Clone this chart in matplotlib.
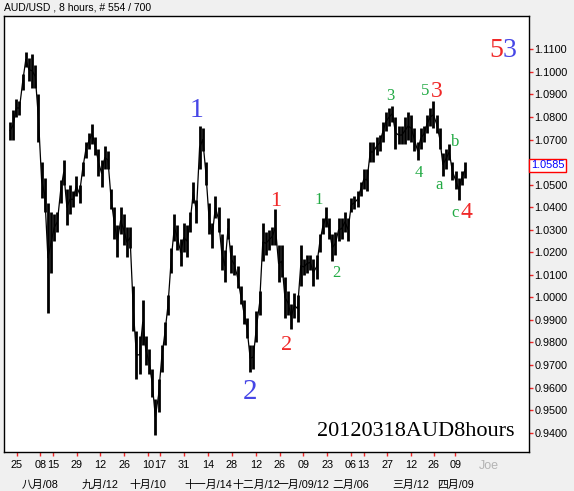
import matplotlib
matplotlib.use("Agg")
import matplotlib.pyplot as plt
from matplotlib.transforms import blended_transform_factory

# AUD/USD 8 hour bars, grouped by 4 bars per column (high / low)
highs = [
    1.078, 1.083, 1.088, 1.087, 1.099, 1.109, 1.106, 1.108, 1.103, 1.090,
    1.060, 1.053, 1.042, 1.038, 1.037, 1.038, 1.052, 1.061, 1.048, 1.050,
    1.047, 1.054, 1.050, 1.060, 1.069, 1.073, 1.077, 1.071, 1.066, 1.061,
    1.067, 1.065, 1.048, 1.040, 1.032, 1.040, 1.037, 1.031, 1.031, 1.005,
    0.985, 0.983, 0.999, 0.983, 0.977, 0.968, 0.955, 0.964, 0.979, 0.989,
    1.001, 1.022, 1.037, 1.032, 1.026, 1.033, 1.032, 1.038, 1.051, 1.043,
    1.076, 1.075, 1.060, 1.042, 1.033, 1.045, 1.040, 1.028, 1.021, 1.035,
    1.023, 1.019, 1.014, 1.005, 0.999, 0.991, 0.979, 0.979, 0.994, 1.003,
    1.033, 1.029, 1.030, 1.031, 1.039, 1.023, 1.023, 1.009, 1.003, 0.997,
    1.002, 1.001, 1.023, 1.017, 1.019, 1.019, 1.017, 1.019, 1.028, 1.035,
    1.040, 1.035, 1.028, 1.029, 1.035, 1.035, 1.038, 1.035, 1.044, 1.045,
    1.047, 1.051, 1.057, 1.057, 1.069, 1.069, 1.071, 1.072, 1.078, 1.082,
    1.084, 1.085, 1.080, 1.076, 1.076, 1.080, 1.082, 1.081, 1.075, 1.069,
    1.075, 1.076, 1.081, 1.084, 1.087, 1.081, 1.075, 1.064, 1.066, 1.068,
    1.060, 1.056, 1.053, 1.056, 1.060]
lows = [
    1.070, 1.070, 1.080, 1.081, 1.092, 1.102, 1.096, 1.093, 1.093, 1.069,
    1.044, 1.038, 0.993, 1.011, 1.025, 1.029, 1.042, 1.050, 1.032, 1.037,
    1.040, 1.045, 1.042, 1.054, 1.062, 1.066, 1.068, 1.063, 1.054, 1.049,
    1.057, 1.057, 1.039, 1.026, 1.018, 1.028, 1.023, 1.018, 1.022, 0.985,
    0.964, 0.966, 0.979, 0.970, 0.966, 0.956, 0.939, 0.949, 0.967, 0.979,
    0.992, 1.011, 1.025, 1.021, 1.014, 1.020, 1.018, 1.029, 1.042, 1.033,
    1.057, 1.065, 1.050, 1.028, 1.022, 1.035, 1.029, 1.012, 1.007, 1.026,
    1.011, 1.010, 1.004, 0.997, 0.988, 0.982, 0.967, 0.968, 0.980, 0.992,
    1.016, 1.019, 1.021, 1.023, 1.023, 1.007, 1.009, 0.991, 0.992, 0.986,
    0.991, 0.989, 1.005, 1.010, 1.011, 1.012, 1.005, 1.008, 1.020, 1.028,
    1.031, 1.026, 1.016, 1.019, 1.025, 1.026, 1.029, 1.025, 1.038, 1.039,
    1.040, 1.045, 1.048, 1.047, 1.060, 1.060, 1.063, 1.065, 1.069, 1.074,
    1.076, 1.078, 1.066, 1.068, 1.068, 1.068, 1.070, 1.069, 1.065, 1.061,
    1.066, 1.069, 1.073, 1.076, 1.075, 1.073, 1.066, 1.054, 1.057, 1.061,
    1.052, 1.048, 1.043, 1.050, 1.053]
bars = [i * 4 for i in range(len(highs))]

day_ticks = [8.5, 38.5, 54.5, 84.5, 114.5, 144.5, 174.5, 190.5, 220.5, 250.5, 280.5,
             311.5, 341.5, 371.5, 401.5, 431.5, 447.5, 477.5, 507.5, 536.5, 563.5]
day_labels = ["25", "08", "15", "29", "12", "26", "10", "17", "31", "14", "28",
              "12", "26", "09", "23", "06", "13", "27", "12", "26", "09"]
month_ticks = [38.5, 114.5, 174.5, 250.5, 311.5, 371.5, 431.5, 507.5, 563.5]
month_labels = ["八月/08", "九月/12", "十月/10", "十一月/14", "十二月/12",
                "一月/09/12", "二月/06", "三月/12", "四月/09"]
price_ticks = [0.94, 0.95, 0.96, 0.97, 0.98, 0.99, 1.00, 1.01, 1.02, 1.03,
               1.04, 1.05, 1.06, 1.07, 1.08, 1.09, 1.10, 1.11]
last_price = 1.0585

# elliott wave marks
wave_text = ["1", "2", "1", "2", "1", "2", "3", "4", "5", "3", "a", "b", "c", "4"]
wave_bar = [236.7, 303.8, 336.7, 350.6, 391.1, 412.7, 481, 517.7, 526, 540, 543, 563.3, 563.3, 577.2]
wave_price = [1.0830, 0.9580, 1.0425, 0.9785, 1.0430, 1.0108, 1.0893, 1.0551, 1.0915, 1.0912,
              1.0498, 1.0689, 1.0374, 1.0375]

BLUE = "#4646e6"
RED = "#f02828"
GREEN = "#22aa44"
wave_color = [BLUE, BLUE, RED, RED, GREEN, GREEN, GREEN, GREEN, GREEN, RED, GREEN, GREEN, GREEN, RED]
wave_size = [20, 21, 16, 16, 12, 12, 12, 12, 12, 17, 12, 12, 12, 17]

fig = plt.figure(figsize=(5.74, 4.91), dpi=100, facecolor="#f0f0f0")
ax = fig.add_axes([4 / 574, 39 / 491, 525 / 574, 436 / 491])
ax.set_facecolor("white")

mids = [(h + l) / 2 for h, l in zip(highs, lows)]
ax.plot(bars, mids, color="black", lw=0.9)
ax.vlines(bars, lows, highs, colors="black", lw=2.0)

ax.set_xlim(-7.6, 657)
ax.set_ylim(0.9314, 1.1248)

sans = ["Liberation Sans", "Noto Sans CJK SC"]
ax.yaxis.tick_right()
ax.set_yticks(price_ticks)
ax.set_yticklabels(["" if abs(p - 1.06) < 1e-6 else "%.4f" % p for p in price_ticks],
                   family=sans, fontsize=7.8)
ax.set_xticks(day_ticks)
ax.set_xticklabels(day_labels, family=sans, fontsize=7.8)
ax.tick_params(axis="both", direction="out", length=3, width=1, color=RED, pad=3)
ax.tick_params(axis="y", pad=1)
for s in ax.spines.values():
    s.set_linewidth(1)

trans = blended_transform_factory(ax.transData, ax.transAxes)
for pos, lab in zip(month_ticks, month_labels):
    ax.text(pos, -0.076, lab, transform=trans, ha="center", va="center",
            family=sans, fontsize=7.8)

ax.text(1.004, last_price, "%.4f" % last_price, transform=ax.get_yaxis_transform(),
        ha="left", va="center", color="blue", family=sans, fontsize=7.8,
        bbox=dict(boxstyle="square,pad=0.15", fc="white", ec="red", lw=1))

serif = "Liberation Serif"
for t, b, p, c, s in zip(wave_text, wave_bar, wave_price, wave_color, wave_size):
    ax.text(b, p, t, color=c, fontsize=s, family=serif, ha="center", va="center")

ax.text(624, 1.1095, "5", color=RED, fontsize=20, family=serif, ha="right", va="center")
ax.text(624, 1.1095, "3", color=BLUE, fontsize=20, family=serif, ha="left", va="center")
ax.text(639, 0.9405, "20120318AUD8hours", color="black", fontsize=16, family=serif,
        ha="right", va="center")

fig.text(4 / 574, 1 - 7 / 491, "AUD/USD , 8 hours, # 554 / 700", family=sans, fontsize=7.5,
         ha="left", va="center")
fig.text(489 / 574, 1 - 466 / 491, "Joe", color="#b4b4b4", family=sans, fontsize=9,
         ha="center", va="center")

fig.savefig("out.png", dpi=100, facecolor=fig.get_facecolor())
